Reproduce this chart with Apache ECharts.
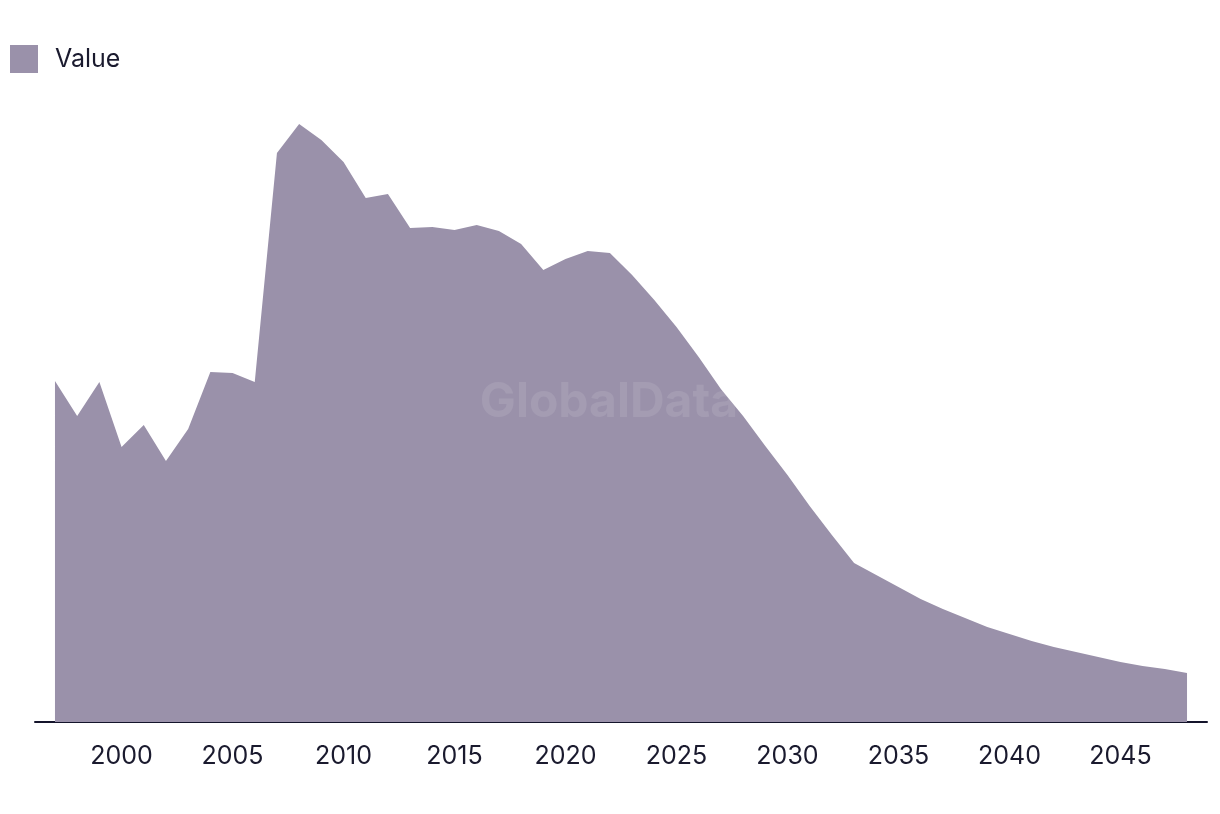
<!DOCTYPE html>
<html>
<head>
<meta charset="utf-8">
<script src="https://cdn.jsdelivr.net/npm/echarts@6/dist/echarts.min.js"></script>
<style>
html,body{margin:0;padding:0;background:#fff;}
#chart{width:1220px;height:814px;}
</style>
</head>
<body>
<div id="chart"></div>
<script>
const years = [1997,1998,1999,2000,2001,2002,2003,2004,2005,2006,2007,2008,2009,2010,2011,2012,2013,2014,2015,2016,2017,2018,2019,2020,2021,2022,2023,2024,2025,2026,2027,2028,2029,2030,2031,2032,2033,2034,2035,2036,2037,2038,2039,2040,2041,2042,2043,2044,2045,2046,2047,2048];
const values = [341,306,340,275,297,261,293,350,349,340,569,598,582,560,524,528,494,495,492,497,491,478,452,463,471,469,447,422,395,365,333,306,276,247,216,187,159,147,135,123,113,104,95,88,81,75,70,65,60,56,53,49];
const tickYears = [2000,2005,2010,2015,2020,2025,2030,2035,2040,2045];
const seriesName = 'Value';

const chart = echarts.init(document.getElementById('chart'));
chart.setOption({
  animation: false,
  backgroundColor: '#ffffff',
  legend: {
    left: 5, top: 40,
    icon: 'rect',
    itemWidth: 28, itemHeight: 28,
    textStyle: {fontFamily: 'Inter', fontSize: 25, color: '#1a1a2e', padding: [0,0,0,12]},
    data: [seriesName]
  },
  grid: {left: 35, right: 13, top: 122, bottom: 92, containLabel: false},
  xAxis: {
    type: 'value',
    min: 1996.1, max: 2048.9,
    axisLine: {show: true, lineStyle: {color: '#14142b', width: 2}},
    axisTick: {show: false},
    splitLine: {show: false},
    axisLabel: {
      customValues: tickYears,
      fontFamily: 'Inter', fontSize: 25, color: '#1a1a2e', margin: 22,
      formatter: v => String(v)
    }
  },
  yAxis: {
    type: 'value', min: 0, max: 600, show: false,
    splitLine: {show: false}
  },
  graphic: [{
    type: 'text', x: 609, y: 403, z: 100,
    style: {text: 'GlobalData', fontFamily: 'Inter', fontWeight: 'bold', fontSize: 48,
      align: 'center', verticalAlign: 'middle', fill: 'rgba(255,255,255,0.1)'}
  }],
  series: [{
    name: seriesName,
    type: 'line',
    data: years.map((y,i) => [y, values[i]]),
    showSymbol: false,
    symbol: 'none',
    lineStyle: {width: 0},
    itemStyle: {color: '#9a91aa'},
    areaStyle: {color: '#9a91aa', opacity: 1}
  }]
});
</script>
</body>
</html>
